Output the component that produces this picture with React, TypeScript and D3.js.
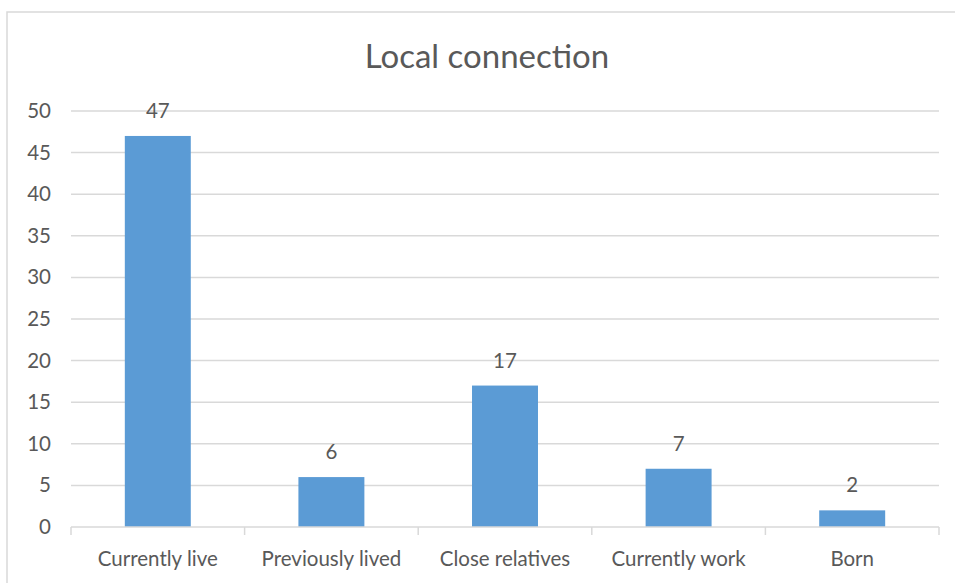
import React from "react";
import * as d3 from "d3";

const categories = ["Currently live", "Previously lived", "Close relatives", "Currently work", "Born"];
const values = [47, 6, 17, 7, 2];
const yTicks = [0, 5, 10, 15, 20, 25, 30, 35, 40, 45, 50];
const title = "Local connection";

export default function App() {
  const W = 955, H = 583;
  const left = 71, right = 939, top = 111, bottom = 527;
  const x = d3.scaleBand<string>().domain(categories).range([left, right]).paddingInner(0).paddingOuter(0);
  const y = d3.scaleLinear().domain([0, 50]).range([bottom, top]);
  const barW = x.bandwidth() * 0.38;
  const font = "Lato, 'Open Sans', sans-serif";
  const textColor = "#595959";
  const boundaries = [...categories.map((c) => x(c)!), right];
  const fs = 20.5;
  return (
    <svg width={W} height={H} style={{ position: "absolute", left: 0, top: 0 }}>
      <rect x={0} y={0} width={W} height={H} fill="#fff" />
      <rect x={7} y={12} width={W + 20} height={H + 20} fill="none" stroke="#d9d9d9" strokeWidth={1.5} />
      <text x={487} y={68} textAnchor="middle" fontFamily={font} fontSize={33} fill={textColor}>
        {title}
      </text>
      {yTicks.map((t) => (
        <g key={t}>
          {t !== 0 && (
            <line x1={left} x2={right} y1={y(t)} y2={y(t)} stroke="#d9d9d9" strokeWidth={1.5} />
          )}
          <text x={51} y={y(t) + 7} textAnchor="end" fontFamily={font} fontSize={fs} fill={textColor}>
            {t}
          </text>
        </g>
      ))}
      {categories.map((c, i) => {
        const cx = x(c)! + x.bandwidth() / 2;
        const yt = y(values[i]);
        return (
          <g key={c}>
            <rect x={cx - barW / 2} y={yt} width={barW} height={bottom - yt} fill="#5B9BD5" />
            <text x={cx} y={yt - 18} textAnchor="middle" fontFamily={font} fontSize={fs} fill={textColor}>
              {values[i]}
            </text>
            <text x={cx} y={566} textAnchor="middle" fontFamily={font} fontSize={fs} fill={textColor}>
              {c}
            </text>
          </g>
        );
      })}
      <line x1={left} x2={right} y1={bottom} y2={bottom} stroke="#d9d9d9" strokeWidth={1.5} />
      {boundaries.map((b, i) => (
        <line key={i} x1={b} x2={b} y1={bottom} y2={bottom + 8} stroke="#d9d9d9" strokeWidth={1.5} />
      ))}
    </svg>
  );
}
